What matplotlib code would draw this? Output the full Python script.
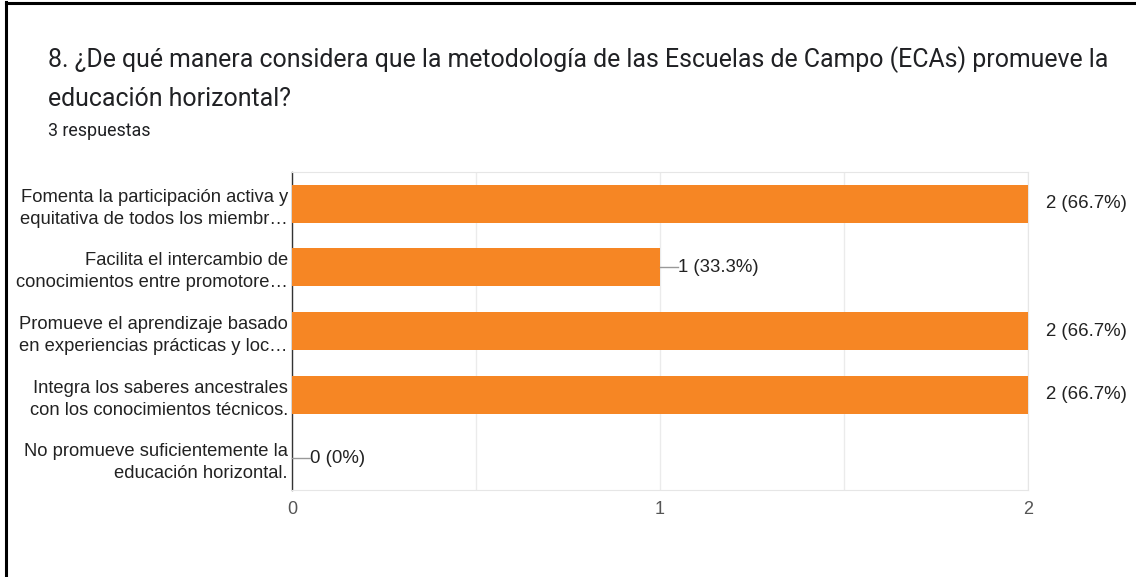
import matplotlib
matplotlib.use("Agg")
import matplotlib.pyplot as plt
from matplotlib.lines import Line2D

title_lines = ["8. ¿De qué manera considera que la metodología de las Escuelas de Campo (ECAs) promueve la",
               "educación horizontal?"]
subtitle = "3 respuestas"
categories = [
    "Fomenta la participación activa y\nequitativa de todos los miembr…",
    "Facilita el intercambio de\nconocimientos entre promotore…",
    "Promueve el aprendizaje basado\nen experiencias prácticas y loc…",
    "Integra los saberes ancestrales\ncon los conocimientos técnicos.",
    "No promueve suficientemente la\neducación horizontal.",
]
counts = [2, 1, 2, 2, 0]
total = 3
xticks = [0, 1, 2]

BAR = "#f68624"
W, H = 1136, 577

fig = plt.figure(figsize=(W / 100, H / 100), dpi=100, facecolor="white")

# screenshot border (top and left)
fig.add_artist(Line2D([6 / W, 6 / W], [0, 1 - 2 / H], color="black", lw=2.2, transform=fig.transFigure))
fig.add_artist(Line2D([6 / W, 1], [1 - 3 / H, 1 - 3 / H], color="black", lw=2.2, transform=fig.transFigure))

fig.text(48 / W, 1 - 60 / H, title_lines[0], fontsize=17.9, family="Roboto", color="#202124", va="center")
fig.text(48 / W, 1 - 99 / H, title_lines[1], fontsize=17.9, family="Roboto", color="#202124", va="center")
fig.text(48 / W, 1 - 131 / H, subtitle, fontsize=12.9, family="Roboto", color="#202124", va="center")

left, right, top, bottom = 292, 1028, 172, 490
ax = fig.add_axes([left / W, 1 - bottom / H, (right - left) / W, (bottom - top) / H])

ypos = list(range(len(categories)))
ax.barh(ypos, counts, height=0.6, color=BAR, zorder=3)
ax.set_xlim(0, 2)
ax.set_ylim(len(categories) - 0.5, -0.5)

ax.set_xticks(xticks)
ax.set_xticks([0.5, 1.5], minor=True)
ax.set_xticklabels([str(t) for t in xticks], fontsize=13, color="#555555", family="Liberation Sans")
ax.tick_params(axis="x", which="both", length=0, pad=8)
ax.grid(axis="x", which="both", color="#ebebeb", lw=1, zorder=0)

ax.set_yticks(ypos)
ax.set_yticklabels(categories, fontsize=13.2, color="#222222", family="Liberation Sans",
                   linespacing=1.38)
ax.tick_params(axis="y", length=0, pad=3)

for s in ["top", "right", "bottom"]:
    ax.spines[s].set_color("#e6e6e6")
ax.spines["left"].set_color("#333333")
ax.spines["left"].set_linewidth(1)

for y, c in zip(ypos, counts):
    pct = 100 * c / total
    pct_txt = f"{pct:.1f}%" if c else "0%"
    label = f"{c} ({pct_txt})"
    if c < max(counts):
        ax.plot([c, c + 0.05], [y, y], color="#999999", lw=1, zorder=4, clip_on=False)
    ax.text(c + 0.05 if c < max(counts) else c + 0.048, y, label, fontsize=13.4, color="#222222",
            family="Liberation Sans", va="center", ha="left", clip_on=False)

fig.savefig("out.png", dpi=100)
